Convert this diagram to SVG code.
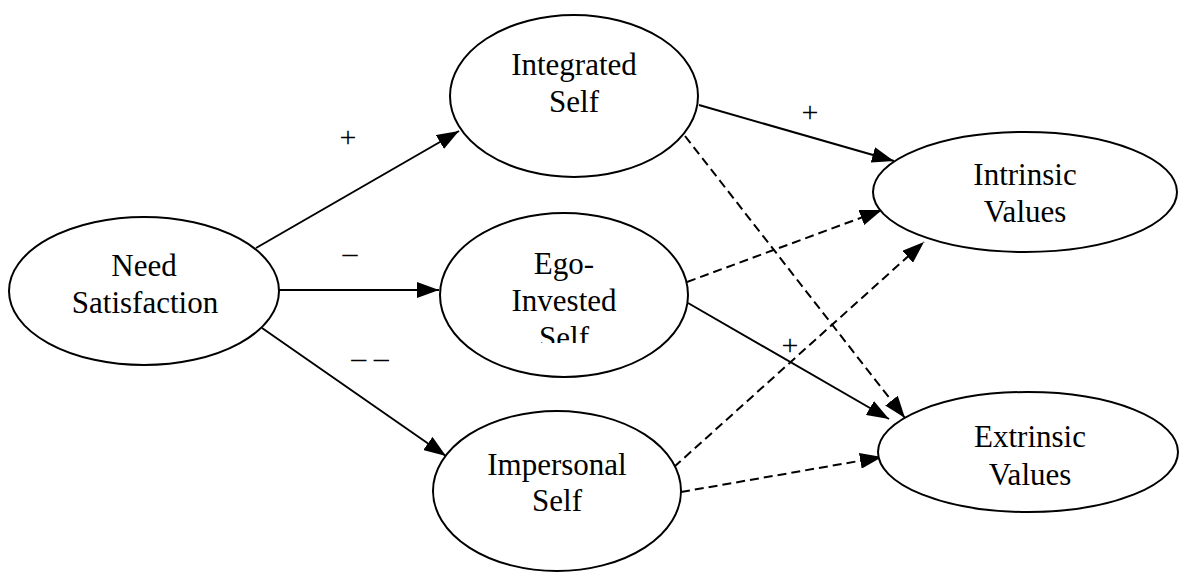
<svg xmlns="http://www.w3.org/2000/svg" width="1179" height="573" viewBox="0 0 1179 573">
<style>
.node ellipse{fill:#fff;stroke:#000;stroke-width:2}
.node text{font-family:"Liberation Serif","Times New Roman",serif;font-size:31px;fill:#000;text-anchor:middle}
.lbl{font-family:"Liberation Serif","Times New Roman",serif;font-size:30px;fill:#000;text-anchor:middle}
.c line{stroke:#000;stroke-width:2;fill:none}
.c .d{stroke-dasharray:9,5}
</style>
<defs>
<marker id="ah" viewBox="0 0 22 16" refX="22" refY="8" markerWidth="22" markerHeight="16" markerUnits="userSpaceOnUse" orient="auto">
<path d="M0,0 L22,8 L0,16 Z" fill="#000"/>
</marker>
<clipPath id="egoclip"><rect x="380" y="200" width="320" height="143"/></clipPath>
</defs>
<rect width="1179" height="573" fill="#fff"/>
<g id="connectors" class="c">
<line x1="256" y1="248" x2="459" y2="131" marker-end="url(#ah)"/>
<line x1="276" y1="290" x2="439" y2="290" marker-end="url(#ah)"/>
<line x1="262" y1="328" x2="446" y2="456" marker-end="url(#ah)"/>
<line x1="699" y1="105" x2="894" y2="161" marker-end="url(#ah)"/>
<line class="d" x1="685" y1="136" x2="905" y2="418" marker-end="url(#ah)"/>
<line class="d" x1="687" y1="282" x2="882" y2="210" marker-end="url(#ah)"/>
<line x1="688" y1="303" x2="889" y2="419" marker-end="url(#ah)"/>
<line class="d" x1="674" y1="467" x2="924" y2="242" marker-end="url(#ah)"/>
<line class="d" x1="681" y1="492" x2="882" y2="457" marker-end="url(#ah)"/>
</g>
<g id="labels">
<text class="lbl" x="348" y="147">+</text>
<text class="lbl" x="350" y="263">–</text>
<text class="lbl" x="370" y="368">– –</text>
<text class="lbl" x="810" y="122">+</text>
<text class="lbl" x="790" y="355">+</text>
</g>
<g id="need" class="node">
<ellipse cx="144" cy="291" rx="135" ry="74"/>
<text x="144" y="276">Need</text>
<text x="145" y="313">Satisfaction</text>
</g>
<g id="integrated" class="node">
<ellipse cx="574" cy="96" rx="124" ry="81"/>
<text x="574" y="75">Integrated</text>
<text x="574" y="112">Self</text>
</g>
<g id="ego" class="node">
<ellipse cx="564" cy="295" rx="124" ry="82"/>
<text x="564" y="274">Ego-</text>
<text x="564" y="311">Invested</text>
<text x="564" y="348" clip-path="url(#egoclip)">Self</text>
</g>
<g id="impersonal" class="node">
<ellipse cx="557" cy="491" rx="124" ry="80"/>
<text x="557" y="475">Impersonal</text>
<text x="557" y="511">Self</text>
</g>
<g id="intrinsic" class="node">
<ellipse cx="1025" cy="192" rx="152" ry="60"/>
<text x="1025" y="185">Intrinsic</text>
<text x="1025" y="222">Values</text>
</g>
<g id="extrinsic" class="node">
<ellipse cx="1028" cy="452" rx="150" ry="60"/>
<text x="1030" y="447">Extrinsic</text>
<text x="1030" y="485">Values</text>
</g>
</svg>
